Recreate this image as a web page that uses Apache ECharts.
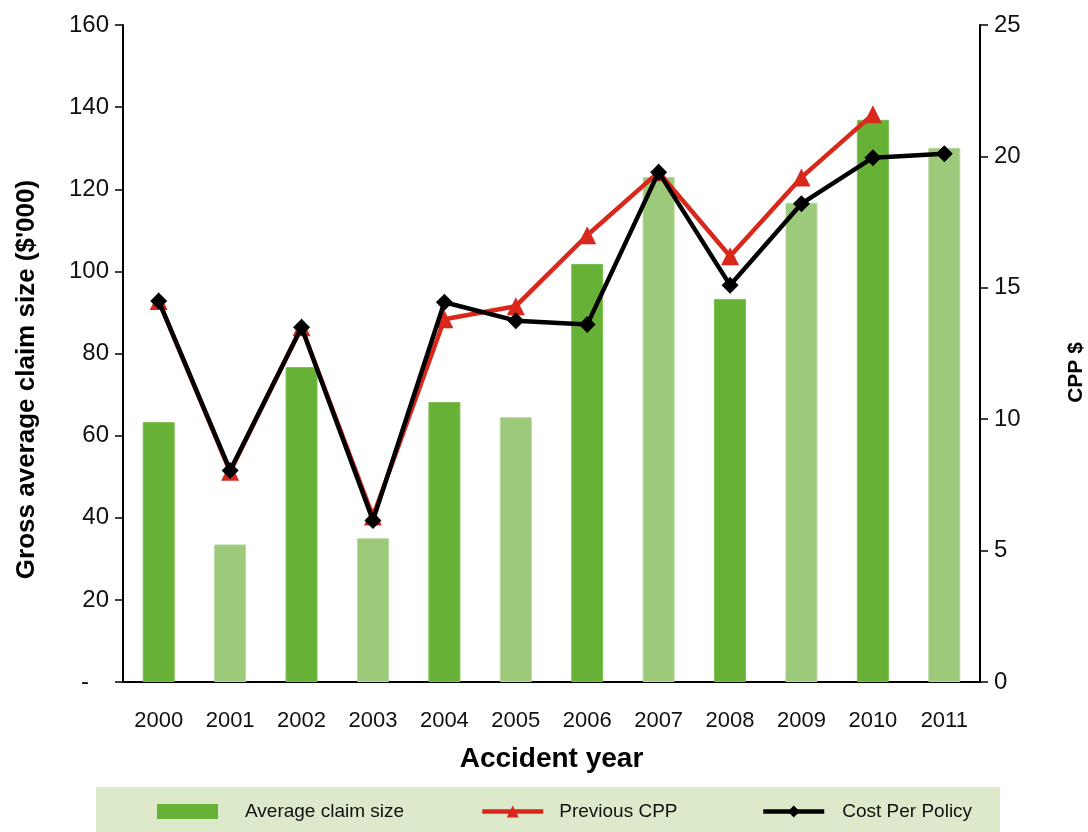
<!DOCTYPE html>
<html><head><meta charset="utf-8">
<script src="https://cdn.jsdelivr.net/npm/echarts@6/dist/echarts.min.js"></script>
<style>html,body{margin:0;padding:0;background:#fff}#c{width:1088px;height:832px}</style>
</head><body><div id="c"></div>
<script>
var years = ['2000','2001','2002','2003','2004','2005','2006','2007','2008','2009','2010','2011'];
var avgClaim = [63.3, 33.5, 76.7, 35.0, 68.2, 64.5, 101.8, 123.0, 93.3, 116.7, 136.9, 130.1];
var previousCPP = [14.5, 8.0, 13.5, 6.3, 13.8, 14.3, 17.0, 19.4, 16.2, 19.2, 21.6, null];
var costPerPolicy = [14.5, 8.05, 13.5, 6.15, 14.45, 13.75, 13.6, 19.4, 15.1, 18.2, 19.95, 20.1];
var leftTicks = {min: 0, max: 160, interval: 20};
var rightTicks = {min: 0, max: 25, interval: 5};

var dark = '#67b236', light = '#9dc97a';
var font = 'Liberation Sans, Arial, Helvetica, sans-serif';
var chart = echarts.init(document.getElementById('c'));
var barData = avgClaim.map(function (v, i) {
  return {value: v, itemStyle: {color: i % 2 === 0 ? dark : light, borderColor: i % 2 === 0 ? '#7cbf52' : '#b7d99e', borderWidth: 1}};
});
function legendItem(name, left, gap, icon) {
  var o = {
    data: [name], left: left, top: 802, padding: 0, itemWidth: 61, itemHeight: 15, itemGap: 0,
    lineStyle: {width: 4.5},
    textStyle: {fontFamily: font, fontSize: 19, color: '#111', rich: {a: {padding: [0, 0, 0, gap], fontFamily: font, fontSize: 19, color: '#111'}}},
    formatter: '{a|{name}}'
  };
  if (icon) o.icon = icon;
  return o;
}
chart.setOption({
  animation: false,
  textStyle: {fontFamily: font},
  graphic: [{type: 'rect', left: 96, top: 787, shape: {width: 904, height: 45}, style: {fill: '#dce9cb'}, z: -10}],
  legend: [legendItem('Average claim size', 157, 22, 'rect'), legendItem('Previous CPP', 480, 11), legendItem('Cost Per Policy', 761, 13)],
  grid: {left: 123, right: 108, top: 25, bottom: 150, outerBoundsMode: 'none', containLabel: false},
  xAxis: {
    type: 'category', data: years,
    axisLine: {lineStyle: {color: '#000', width: 2}},
    axisTick: {length: 8, lineStyle: {color: '#000', width: 1.5}},
    axisLabel: {color: '#111', fontSize: 22, margin: 28, fontFamily: font},
    name: 'Accident year', nameLocation: 'middle', nameGap: 63,
    nameTextStyle: {fontSize: 28, fontWeight: 'bold', color: '#000', fontFamily: font}
  },
  yAxis: [{
    type: 'value', min: leftTicks.min, max: leftTicks.max, interval: leftTicks.interval,
    splitLine: {show: false},
    axisLine: {show: true, lineStyle: {color: '#000', width: 2}},
    axisTick: {show: true, length: 8, lineStyle: {color: '#000', width: 1.5}},
    axisLabel: {color: '#111', fontSize: 24, margin: 14, fontFamily: font, formatter: function (v) { return v === 0 ? '-   ' : v; }},
    name: "Gross average claim size ($'000)", nameLocation: 'middle', nameGap: 83, nameRotate: 90,
    nameTextStyle: {fontSize: 26, fontWeight: 'bold', color: '#000', fontFamily: font, padding: [0, 0, 0, -52]}
  }, {
    type: 'value', position: 'right', min: rightTicks.min, max: rightTicks.max, interval: rightTicks.interval,
    splitLine: {show: false},
    axisLine: {show: true, lineStyle: {color: '#000', width: 2}},
    axisTick: {show: true, length: 8, lineStyle: {color: '#000', width: 1.5}},
    axisLabel: {color: '#111', fontSize: 24, margin: 14, fontFamily: font},
    name: 'CPP $', nameLocation: 'middle', nameGap: 86, nameRotate: 90,
    nameTextStyle: {fontSize: 21, fontWeight: 'bold', color: '#000', fontFamily: font, padding: [0, 0, 0, -38]}
  }],
  series: [{
    name: 'Average claim size', type: 'bar', yAxisIndex: 0, barWidth: 32,
    itemStyle: {color: dark}, data: barData
  }, {
    name: 'Previous CPP', type: 'line', yAxisIndex: 1, data: previousCPP,
    symbol: 'triangle', symbolSize: 18, lineStyle: {color: '#d9271c', width: 4.5},
    itemStyle: {color: '#d9271c'}, z: 3
  }, {
    name: 'Cost Per Policy', type: 'line', yAxisIndex: 1, data: costPerPolicy,
    symbol: 'diamond', symbolSize: 17, lineStyle: {color: '#000', width: 4.5},
    itemStyle: {color: '#000'}, z: 4
  }]
});
</script></body></html>
